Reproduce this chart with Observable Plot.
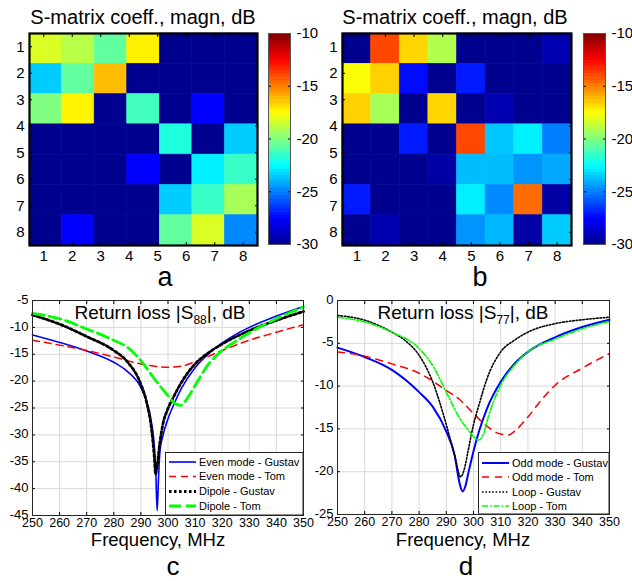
<!DOCTYPE html>
<html><head><meta charset="utf-8">
<script src="https://cdn.jsdelivr.net/npm/d3@7"></script>
<script src="https://cdn.jsdelivr.net/npm/@observablehq/plot@0.6"></script>
<style>
body{margin:0;background:#fff;font-family:"Liberation Sans",Arial,sans-serif;}
#fig{position:relative;width:632px;height:581px;overflow:hidden;background:#fff;}
#fig svg{position:absolute;max-width:none;}
</style></head><body><div id="fig"></div>
<script>
// ---------- data ----------
const matrixTicks = [1, 2, 3, 4, 5, 6, 7, 8];
const colorbarTicks = [-30, -25, -20, -15, -10];
const freqTicks = [250, 260, 270, 280, 290, 300, 310, 320, 330, 340, 350];
const rlTicksC = [-45, -40, -35, -30, -25, -20, -15, -10, -5];
const rlTicksD = [-25, -20, -15, -10, -5, 0];

// S-matrix magnitudes (dB), panel a (7 x 7 cells)
const sMatrixA = [
  [-18.2, -18.9, -20.6, -17.2, -30, -30, -30],
  [-23.5, -20.6, -16.2, -30, -30, -30, -30],
  [-20.0, -17.3, -30, -21.2, -30, -27.5, -30],
  [-30, -30, -30, -30, -21.9, -30, -23.5],
  [-30, -30, -30, -27.5, -30, -22.8, -21.4],
  [-30, -30, -30, -30, -23.5, -21.4, -19.2],
  [-30, -27.5, -30, -30, -20.6, -18.2, -24.8]
];
// panel b (7 rows x 8 columns)
const sMatrixB = [
  [-30, -13.9, -16.7, -19.0, -30, -30, -30, -29.2],
  [-17.6, -16.6, -27.3, -30, -27.0, -30, -30, -30],
  [-16.6, -19.2, -30, -16.7, -30, -29.2, -30, -30],
  [-30, -30, -27.0, -30, -13.9, -23.6, -22.8, -25.0],
  [-30, -30, -30, -29.5, -23.8, -23.8, -24.6, -24.2],
  [-27.0, -30, -30, -30, -22.8, -24.8, -14.6, -29.5],
  [-30, -29.3, -30, -30, -24.6, -23.9, -29.5, -23.5]
];

// Panel c: return loss |S88|
const cNames = ["Even mode - Gustav", "Even mode - Tom", "Dipole - Gustav", "Dipole - Tom"];
const cFreqEvenGustav = [250, 260, 270, 280, 285, 290, 292, 294, 295, 295.5, 296, 296.5, 297, 298, 300, 302, 305, 310, 315, 320, 325, 330, 340, 350];
const cEvenGustav = [-11.4, -12.8, -14.4, -16.5, -18.2, -21.2, -23.6, -28.0, -32.4, -37, -44.1, -38, -33.2, -30.4, -27, -24.5, -21.3, -17.5, -14.9, -12.9, -11.3, -10, -7.9, -6.1];
const cFreqEvenTom = [250, 260, 270, 280, 290, 300, 305, 310, 320, 330, 340, 350];
const cEvenTom = [-12.4, -13.3, -14.3, -15.5, -16.8, -17.4, -17.2, -16.4, -14.3, -12.4, -10.9, -9.5];
const cFreqDipoleGustav = [250, 260, 270, 280, 285, 290, 292, 294, 295, 295.4, 296, 297, 298, 300, 302, 305, 310, 315, 320, 330, 340, 350];
const cDipoleGustav = [-7.7, -9.4, -11.7, -14.3, -16.4, -20.6, -23.7, -29.3, -34.5, -37.3, -35.7, -31.4, -28.3, -25.1, -23, -20.2, -16.8, -14.7, -13.1, -10.6, -8.7, -7.05];
const cFreqDipoleTom = [250, 260, 270, 280, 285, 290, 295, 300, 302, 304.5, 307, 310, 315, 320, 325, 330, 340, 350];
const cDipoleTom = [-7.4, -8.4, -10.3, -12.4, -13.7, -16.2, -19.6, -22.7, -23.9, -24.5, -23.3, -20.8, -16.8, -14.3, -12.6, -11.0, -8.4, -6.2];

// Panel d: return loss |S77|
const dNames = ["Odd mode - Gustav", "Odd mode - Tom", "Loop - Gustav", "Loop - Tom"];
const dFreqOddGustav = [250, 260, 270, 280, 285, 290, 293, 295, 296, 297, 298, 300, 302, 305, 310, 315, 320, 330, 340, 350];
const dOddGustav = [-5.5, -6.6, -8.1, -10.7, -12.4, -15.3, -18, -21.5, -22.3, -21.7, -20.3, -17.6, -15.3, -12.6, -9.5, -7.4, -6, -4.3, -3.1, -2.25];
const dFreqOddTom = [250, 260, 270, 280, 290, 295, 300, 305, 310, 313, 315, 320, 325, 330, 340, 350];
const dOddTom = [-6, -6.5, -7.4, -8.5, -10.5, -11.6, -13.2, -14.7, -15.6, -15.7, -15.3, -13.6, -11.6, -9.9, -7.9, -6.2];
const dFreqLoopGustav = [250, 260, 270, 275, 280, 285, 290, 293, 295.3, 296, 297, 298, 300, 302, 305, 310, 315, 320, 330, 340, 350];
const dLoopGustav = [-1.75, -2.3, -3.7, -4.7, -6.4, -9.5, -14.5, -18, -20.6, -20.3, -19.2, -17.6, -14.5, -12.2, -9.1, -6, -4.65, -3.7, -2.7, -2.25, -1.95];
const dFreqLoopTom = [250, 260, 270, 280, 285, 290, 295, 298, 300, 302, 304, 305, 310, 315, 320, 330, 340, 350];
const dLoopTom = [-1.95, -2.5, -3.7, -5.6, -7.6, -10.7, -13.8, -15.1, -15.9, -16.3, -15.3, -14.1, -9.9, -7.6, -6, -4.5, -3.3, -2.45];

// ---------- styles ----------
const FONT = "Liberation Sans, Arial, sans-serif";
const jet = {type: "linear", domain: [-30, -27.5, -22.5, -17.5, -12.5, -10],
  range: ["#00008f", "#0000ff", "#00ffff", "#ffff00", "#ff0000", "#800000"], interpolate: "rgb", clamp: true};
const cStyles = [
  {stroke: "#0000ff", width: 1.6, dash: null},
  {stroke: "#ff0000", width: 1.5, dash: "7,5"},
  {stroke: "#000000", width: 2.8, dash: "2.5,2.5"},
  {stroke: "#00ff00", width: 2.8, dash: "12,5"}
];
const dStyles = [
  {stroke: "#0000ff", width: 2, dash: null},
  {stroke: "#ff0000", width: 1.5, dash: "7,6"},
  {stroke: "#000000", width: 1.6, dash: "1.6,1.8"},
  {stroke: "#00ff00", width: 1.6, dash: "6,2,1.6,2"}
];

const fig = document.getElementById("fig");
function place(el, left, top) { el.style.left = left + "px"; el.style.top = top + "px"; fig.appendChild(el); }
const baseStyle = {fontFamily: FONT, background: "none", overflow: "visible", color: "black"};

function frameAxes(xt, yt) {
  return [
    Plot.axisX(xt, {anchor: "bottom", tickSize: -3, fill: "none", label: null}),
    Plot.axisX(xt, {anchor: "top", tickSize: -3, fill: "none", label: null}),
    Plot.axisY(yt, {anchor: "left", tickSize: -3, fill: "none", label: null}),
    Plot.axisY(yt, {anchor: "right", tickSize: -3, fill: "none", label: null})
  ];
}

function heatmap(matrix, ml, mr) {
  const nr = matrix.length, nc = matrix[0].length;
  const cells = [];
  matrix.forEach((row, i) => row.forEach((v, j) => cells.push({
    x1: 0.5 + j * 8 / nc, x2: 0.5 + (j + 1) * 8 / nc,
    y1: 0.5 + i * 8 / nr, y2: 0.5 + (i + 1) * 8 / nr, v})));
  return Plot.plot({
    width: 316, height: 290, marginLeft: ml, marginRight: mr, marginTop: 33, marginBottom: 45,
    x: {domain: [0.5, 8.5]},
    y: {domain: [0.5, 8.5], reverse: true},
    color: jet,
    style: baseStyle,
    marks: [
      Plot.rect(cells, {x1: "x1", x2: "x2", y1: "y1", y2: "y2", fill: "v", stroke: "v", strokeWidth: 0.6}),
      Plot.axisX(matrixTicks, {anchor: "bottom", tickSize: 0, tickPadding: 5, fontSize: 15, label: null, tickFormat: String}),
      Plot.axisY(matrixTicks, {anchor: "left", tickSize: 0, tickPadding: 5, fontSize: 15, label: null, tickFormat: String}),
      ...frameAxes(matrixTicks, matrixTicks),
      Plot.frame({stroke: "black", strokeWidth: 2.2})
    ]
  });
}

function colorbar() {
  return Plot.plot({
    width: 62, height: 290, marginLeft: 8, marginRight: 32, marginTop: 33, marginBottom: 46,
    x: {domain: [0, 1], axis: null},
    y: {domain: [-30, -10]},
    color: jet,
    style: baseStyle,
    marks: [
      Plot.raster({fill: (x, y) => y, x1: 0, x2: 1, y1: -30, y2: -10, width: 1, height: 64, imageRendering: "pixelated"}),
      Plot.axisY(colorbarTicks, {anchor: "right", tickSize: 0, tickPadding: 6, fontSize: 15, label: null, tickFormat: String}),
      Plot.axisY(colorbarTicks, {anchor: "right", tickSize: -3, fill: "none", label: null}),
      Plot.axisY(colorbarTicks, {anchor: "left", tickSize: -3, fill: "none", label: null}),
      Plot.frame({stroke: "#555", strokeWidth: 1})
    ]
  });
}

function lineChart(series, styles, yDomain, yTicks, ml, mr, mb) {
  return Plot.plot({
    width: 316, height: 296, marginLeft: ml, marginRight: mr, marginTop: 15, marginBottom: mb,
    x: {domain: [250, 350]},
    y: {domain: yDomain},
    style: baseStyle,
    marks: [
      Plot.gridX(freqTicks, {stroke: "#d9d9d9", strokeOpacity: 1}),
      Plot.gridY(yTicks, {stroke: "#d9d9d9", strokeOpacity: 1}),
      ...series.map((s, k) => Plot.line(s.f.map((f, i) => ({f, v: s.v[i]})), {
        x: "f", y: "v", stroke: styles[k].stroke, strokeWidth: styles[k].width,
        strokeDasharray: styles[k].dash, curve: "monotone-x"})),
      Plot.axisX(freqTicks, {anchor: "bottom", tickSize: 0, tickPadding: 3, fontSize: 12.5, label: null, tickFormat: String}),
      Plot.axisY(yTicks, {anchor: "left", tickSize: 0, tickPadding: 4, fontSize: 13, label: null, tickFormat: String, dy: -1}),
      ...frameAxes(freqTicks, yTicks),
      Plot.frame({stroke: "#262626", strokeWidth: 1})
    ]
  });
}

place(heatmap(sMatrixA, 29, 59), 0, 0);
place(colorbar(), 260, 0);
place(heatmap(sMatrixB, 26, 61), 316, 0);
place(colorbar(), 575, 0);

const cSeries = [
  {f: cFreqEvenGustav, v: cEvenGustav}, {f: cFreqEvenTom, v: cEvenTom},
  {f: cFreqDipoleGustav, v: cDipoleGustav}, {f: cFreqDipoleTom, v: cDipoleTom}];
const dSeries = [
  {f: dFreqOddGustav, v: dOddGustav}, {f: dFreqOddTom, v: dOddTom},
  {f: dFreqLoopGustav, v: dLoopGustav}, {f: dFreqLoopTom, v: dLoopTom}];
place(lineChart(cSeries, cStyles, [-45, -5], rlTicksC, 32, 13, 66), 0, 285);
place(lineChart(dSeries, dStyles, [-25, 0], rlTicksD, 21, 23, 67), 316, 285);

// ---------- overlay: titles, labels, legends ----------
const ov = d3.create("svg").attr("width", 632).attr("height", 581)
  .style("left", "0px").style("top", "0px").style("pointer-events", "none")
  .attr("font-family", FONT);
function txt(x, y, s, size) {
  return ov.append("text").attr("x", x).attr("y", y).attr("text-anchor", "middle")
    .attr("font-size", size).attr("fill", "black").text(s);
}
txt(143, 24, "S-matrix coeff., magn, dB", 20);
txt(455, 24, "S-matrix coeff., magn, dB", 20);
txt(165, 286, "a", 27);
txt(480, 286, "b", 27);
txt(173, 575, "c", 26);
txt(466, 575, "d", 26);
txt(158, 546, "Frequency, MHz", 18.5);
txt(463, 546, "Frequency, MHz", 18.5);
function rlTitle(x, sub) {
  const t = ov.append("text").attr("x", x).attr("y", 319).attr("text-anchor", "middle")
    .attr("font-size", 19).attr("fill", "black");
  t.append("tspan").text("Return loss |S");
  t.append("tspan").attr("font-size", 12).attr("dy", 5).text(sub);
  t.append("tspan").attr("dy", -5).text("|, dB");
}
rlTitle(160, "88");
rlTitle(463, "77");

function legend(x0, y0, x1, y1, names, styles, sx0, sx1, tx, rows) {
  ov.append("rect").attr("x", x0).attr("y", y0).attr("width", x1 - x0).attr("height", y1 - y0)
    .attr("fill", "white").attr("stroke", "#262626").attr("stroke-width", 1);
  names.forEach((n, i) => {
    const y = rows[i];
    ov.append("line").attr("x1", sx0).attr("x2", sx1).attr("y1", y).attr("y2", y)
      .attr("stroke", styles[i].stroke).attr("stroke-width", styles[i].width)
      .attr("stroke-dasharray", styles[i].dash);
    ov.append("text").attr("x", tx).attr("y", y).attr("dy", "0.35em").attr("font-size", 11)
      .attr("fill", "black").text(n);
  });
}
legend(165.5, 452.5, 303, 515, cNames, cStyles, 169, 196, 199, [462, 476.5, 491.5, 506]);
legend(478.5, 452.5, 609, 514, dNames, dStyles, 482, 509, 512, [463, 477, 492, 506]);

place(ov.node(), 0, 0);
</script></body></html>
